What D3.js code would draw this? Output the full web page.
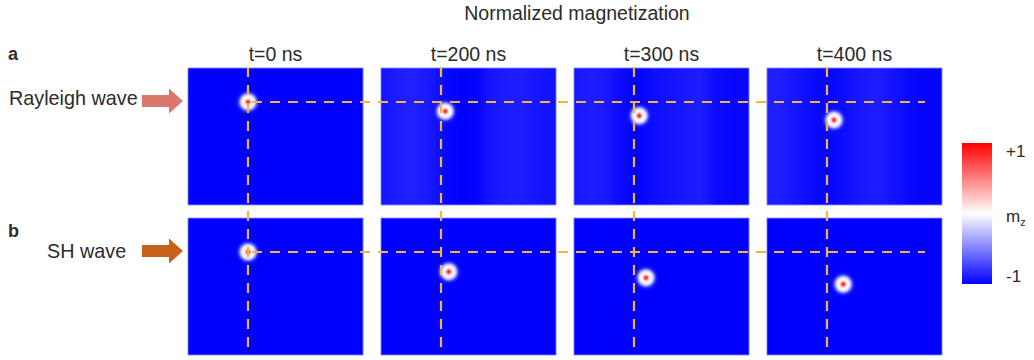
<html>
<head>
  <script src="https://d3js.org/d3.v7.min.js"></script>
  <style>
    body { margin: 0; background: #fff; }
    text { font-family: "Liberation Sans", Arial, sans-serif; fill: #2b2b2b; }
  </style>
</head>
<body>
<svg id="chart"></svg>
<script type="text/javascript">
// ---- data ----
var times = ["t=0 ns", "t=200 ns", "t=300 ns", "t=400 ns"];
var rows = ["a", "b"];
var waves = ["Rayleigh wave", "SH wave"];
var arrowColors = ["#d9786d", "#c8611c"];

// skyrmion centre (nm) for each time, per row
var rayleighX = [240, 257, 261, 268];
var rayleighY = [136, 173, 191, 208];
var shX = [240, 271, 288, 305];
var shY = [136, 215, 239, 265];

// background mz across the film width (12 samples, left -> right), Rayleigh row
var stripeT0 = [-1, -1, -1, -1, -1, -1, -1, -1, -1, -1, -1, -1];
var stripeT200 = [-0.93, -0.89, -0.88, -0.9, -0.97, -1, -0.99, -0.91, -0.89, -0.89, -0.92, -0.93];
var stripeT300 = [-0.91, -0.89, -0.9, -0.96, -1, -0.95, -0.93, -0.9, -0.89, -0.96, -0.98, -0.97];
var stripeT400 = [-0.88, -0.89, -0.92, -0.97, -0.98, -0.94, -0.9, -0.89, -0.93, -0.97, -0.98, -0.98];
var stripeSH = [-1, -1, -1, -1, -1, -1, -1, -1, -1, -1, -1, -1];

// radial mz profile of the skyrmion (fraction of radius -> mz)
var profileR = [0, 0.12, 0.26, 0.42, 0.56, 0.76, 1];
var profileMz = [1, 0.6, 0.05, -0.05, -0.35, -0.78, -1];

var refX = 240;      // vertical guide (nm)
var refY = 136;      // horizontal guide (nm)
var refXEnd = 632;   // horizontal guide ends in last panel (nm)
var filmW = 700, filmH = 548;   // nm
var cbTicks = ["+1", "-1"];

// ---- layout ----
var w = 1034, h = 360;
var svg = d3.select("#chart").attr("width", w).attr("height", h);

var col = d3.scaleBand().domain(times).range([188, 942]).paddingInner(0.093);
var row = d3.scaleBand().domain(rows).range([68, 355]).paddingInner(0.087);
var xs = d3.scaleLinear().domain([0, filmW]).range([0, col.bandwidth()]);
var ys = d3.scaleLinear().domain([0, filmH]).range([0, row.bandwidth()]);
var cmap = d3.scaleLinear().domain([-1, 0, 1]).range(["#0000ff", "#ffffff", "#ff0000"]);

var defs = svg.append("defs");

var stripes = [[stripeT0, stripeT200, stripeT300, stripeT400], [stripeSH, stripeSH, stripeSH, stripeSH]];
var sky = [[rayleighX, rayleighY], [shX, shY]];

// background gradients
rows.forEach(function (r, ri) {
    times.forEach(function (t, ti) {
        var g = defs.append("linearGradient")
            .attr("id", "bg" + ri + ti)
            .attr("x1", "0").attr("x2", "1").attr("y1", "0").attr("y2", "0");
        var s = stripes[ri][ti];
        s.forEach(function (v, i) {
            g.append("stop").attr("offset", i / (s.length - 1)).attr("stop-color", cmap(v));
        });
    });
});

// skyrmion gradient
var rg = defs.append("radialGradient").attr("id", "sk");
profileR.forEach(function (p, i) {
    rg.append("stop")
        .attr("offset", p)
        .attr("stop-color", cmap(profileMz[i]))
        .attr("stop-opacity", p <= 0.56 ? 1 : (1 - p) / 0.44 * 0.85);
});

// panels
rows.forEach(function (r, ri) {
    times.forEach(function (t, ti) {
        var g = svg.append("g")
            .attr("transform", "translate(" + col(t) + "," + row(r) + ")");
        g.append("rect")
            .attr("width", col.bandwidth())
            .attr("height", row.bandwidth())
            .attr("fill", "url(#bg" + ri + ti + ")")
            .attr("stroke", "#7d8cff")
            .attr("stroke-width", 0.8);
        g.append("circle")
            .attr("cx", xs(sky[ri][0][ti]))
            .attr("cy", ys(sky[ri][1][ti]))
            .attr("r", 14)
            .attr("fill", "url(#sk)");
    });
});

// dashed guides
var dash = "10,8";
var guideColor = "#f0b73c";
times.forEach(function (t) {
    svg.append("line")
        .attr("x1", col(t) + xs(refX)).attr("x2", col(t) + xs(refX))
        .attr("y1", row("a") - 1).attr("y2", row("b") + row.bandwidth())
        .attr("stroke", guideColor).attr("stroke-width", 2.2)
        .attr("stroke-dasharray", dash);
});
rows.forEach(function (r) {
    svg.append("line")
        .attr("x1", col(times[0]) + xs(refX) + 4)
        .attr("x2", col(times[3]) + xs(refXEnd))
        .attr("y1", row(r) + ys(refY)).attr("y2", row(r) + ys(refY))
        .attr("stroke", guideColor).attr("stroke-width", 2.2)
        .attr("stroke-dasharray", dash);
});

// titles
svg.append("text")
    .attr("x", 577).attr("y", 20)
    .attr("text-anchor", "middle")
    .attr("font-size", "19.5px")
    .text("Normalized magnetization");

svg.selectAll(".coltitle")
    .data(times)
    .enter()
    .append("text")
    .attr("class", "coltitle")
    .attr("x", function (d) { return col(d) + col.bandwidth() / 2; })
    .attr("y", 61)
    .attr("text-anchor", "middle")
    .attr("font-size", "19.5px")
    .text(function (d) { return d; });

// row labels and arrows
var labelX = [9, 47];
var labelY = [105, 258];
var letterY = [60, 237];
rows.forEach(function (r, ri) {
    svg.append("text")
        .attr("x", 8).attr("y", letterY[ri])
        .attr("font-size", "18px").attr("font-weight", "bold")
        .text(r);
    svg.append("text")
        .attr("x", labelX[ri]).attr("y", labelY[ri])
        .attr("font-size", "19.8px")
        .text(waves[ri]);

    var cy = row(r) + ys(refY) - 1;
    var x0 = 142, x1 = 183, xh = 169, sh = 6, hh = 12.5;
    var p = d3.path();
    p.moveTo(x0, cy - sh);
    p.lineTo(xh, cy - sh);
    p.lineTo(xh, cy - hh);
    p.lineTo(x1, cy);
    p.lineTo(xh, cy + hh);
    p.lineTo(xh, cy + sh);
    p.lineTo(x0, cy + sh);
    p.closePath();
    svg.append("path").attr("d", p.toString()).attr("fill", arrowColors[ri]);
});

// colour bar
var cb = d3.scaleLinear().domain([-1, 1]).range([284, 143]);
var lg = defs.append("linearGradient").attr("id", "cbar")
    .attr("x1", "0").attr("x2", "0").attr("y1", "1").attr("y2", "0");
d3.range(-1, 1.001, 0.25).forEach(function (v) {
    lg.append("stop").attr("offset", (v + 1) / 2).attr("stop-color", cmap(v));
});
svg.append("rect")
    .attr("x", 962).attr("y", cb(1))
    .attr("width", 30).attr("height", cb(-1) - cb(1))
    .attr("fill", "url(#cbar)");

svg.append("text").attr("x", 1006).attr("y", cb(1) + 14)
    .attr("font-size", "17px").text(cbTicks[0]);
svg.append("text").attr("x", 1006).attr("y", cb(-1) - 2)
    .attr("font-size", "17px").text(cbTicks[1]);
var mz = svg.append("text").attr("x", 1006).attr("y", cb(0) + 8)
    .attr("font-size", "17px");
mz.append("tspan").text("m");
mz.append("tspan").attr("font-size", "11px").attr("dy", 4).text("z");
</script>
</body>
</html>
